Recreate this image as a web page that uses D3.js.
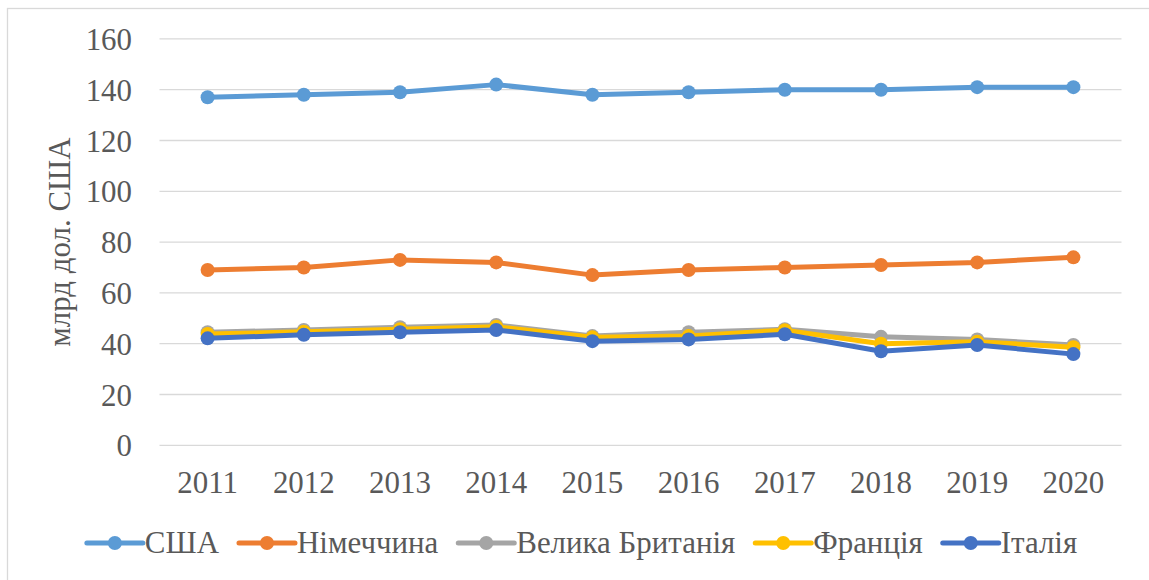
<!DOCTYPE html>
<html><head><meta charset="utf-8">
<script src="https://cdn.jsdelivr.net/npm/d3@7"></script>
<style>body{margin:0;background:#fff}svg{display:block}</style>
</head><body>
<svg id="c" width="1149" height="580"></svg>
<script>
const years = ["2011","2012","2013","2014","2015","2016","2017","2018","2019","2020"];
const usa = [137, 138, 139, 142, 138, 139, 140, 140, 141, 141];
const germany = [69, 70, 73, 72, 67, 69, 70, 71, 72, 74];
const uk = [44.5, 45.4, 46.5, 47.4, 43, 44.5, 45.7, 42.7, 41.7, 39.5];
const france = [43.8, 44.7, 45.7, 46.7, 42.5, 43, 45.3, 40, 40.8, 38.6];
const italy = [42.1, 43.5, 44.5, 45.4, 41, 41.7, 43.7, 37, 39.5, 35.9];
const seriesNames = ["США", "Німеччина", "Велика Британія", "Франція", "Італія"];
const seriesColors = ["#5B9BD5", "#ED7D31", "#A5A5A5", "#FFC000", "#4472C4"];
const yTicks = [0, 20, 40, 60, 80, 100, 120, 140, 160];
const yTitle = "млрд дол. США";

(function () {
const series = [usa, germany, uk, france, italy].map((v, i) => ({name: seriesNames[i], color: seriesColors[i], values: v}));

const svg = d3.select("#c");
const font = '"Liberation Serif","Times New Roman",serif';
const textColor = "#595959";

// calibrate font size so a year label is ~61px wide, as in the reference
const probe = svg.append("text").style("font-family", font).style("font-size", "30px").text("2011");
const w30 = probe.node().getComputedTextLength();
probe.remove();
const fs = Math.max(26, Math.min(34, 30 * 60.7 / w30));

svg.append("rect").attr("x", 7.5).attr("y", 8.5).attr("width", 1160).attr("height", 600)
  .attr("fill", "#fff").attr("stroke", "#d9d9d9").attr("stroke-width", 1.3);

const pLeft = 159.5, pRight = 1121.5, pTop = 38.9, pBottom = 445.3;
const x = d3.scaleBand().domain(years).range([pLeft, pRight]);
const y = d3.scaleLinear().domain([0, 160]).range([pBottom, pTop]);

svg.append("g").selectAll("line").data(yTicks).join("line")
  .attr("x1", pLeft).attr("x2", pRight)
  .attr("y1", d => y(d)).attr("y2", d => y(d))
  .attr("stroke", "#d9d9d9").attr("stroke-width", 1.3);

const yAxis = d3.axisLeft(y).tickValues(yTicks).tickSize(0).tickPadding(0);
const gy = svg.append("g").attr("transform", "translate(132,0)").call(yAxis);
gy.attr("font-family", null).attr("font-size", null);
gy.select(".domain").remove();
gy.selectAll("text").style("font-family", font).style("font-size", fs + "px").attr("fill", textColor).attr("dy", "0.34em");

const xAxis = d3.axisBottom(x).tickSize(0).tickPadding(0);
const gx = svg.append("g").attr("transform", `translate(0,${pBottom})`).call(xAxis);
gx.attr("font-family", null).attr("font-size", null);
gx.select(".domain").remove();
gx.selectAll("text").style("font-family", font).style("font-size", fs + "px").attr("fill", textColor).attr("dy", null).attr("y", 48);

svg.append("text").attr("transform", `translate(70,${(pTop + pBottom) / 2}) rotate(-90)`)
  .attr("text-anchor", "middle").style("font-family", font).style("font-size", fs + "px").attr("fill", textColor)
  .text(yTitle);

const line = d3.line().x((d, i) => x(years[i]) + x.bandwidth() / 2).y(d => y(d));

series.forEach(s => {
  const g = svg.append("g");
  g.append("path").attr("d", line(s.values)).attr("fill", "none").attr("stroke", s.color)
    .attr("stroke-width", 5).attr("stroke-linejoin", "round").attr("stroke-linecap", "round");
  g.selectAll("circle").data(s.values).join("circle")
    .attr("cx", (d, i) => x(years[i]) + x.bandwidth() / 2).attr("cy", d => y(d))
    .attr("r", 7).attr("fill", s.color);
});

const legY = 543;
const lg = svg.append("g");
const items = lg.selectAll("g").data(series).join("g");
items.append("line").attr("x1", 0).attr("x2", 56).attr("y1", 0).attr("y2", 0)
  .attr("stroke", d => d.color).attr("stroke-width", 5).attr("stroke-linecap", "round");
items.append("circle").attr("cx", 28).attr("cy", 0).attr("r", 7).attr("fill", d => d.color);
items.append("text").attr("x", 58).attr("y", 0).attr("dy", "0.32em")
  .style("font-family", font).style("font-size", fs + "px").attr("fill", textColor).text(d => d.name);
const gap = 20;
const widths = [];
items.each(function () {
  widths.push(58 + d3.select(this).select("text").node().getComputedTextLength());
});
const total = d3.sum(widths) + gap * (widths.length - 1);
let start = 582 - total / 2;
items.attr("transform", (d, i) => {
  const t = `translate(${start},${legY})`;
  start += widths[i] + gap;
  return t;
});
})();
</script>
</body></html>
